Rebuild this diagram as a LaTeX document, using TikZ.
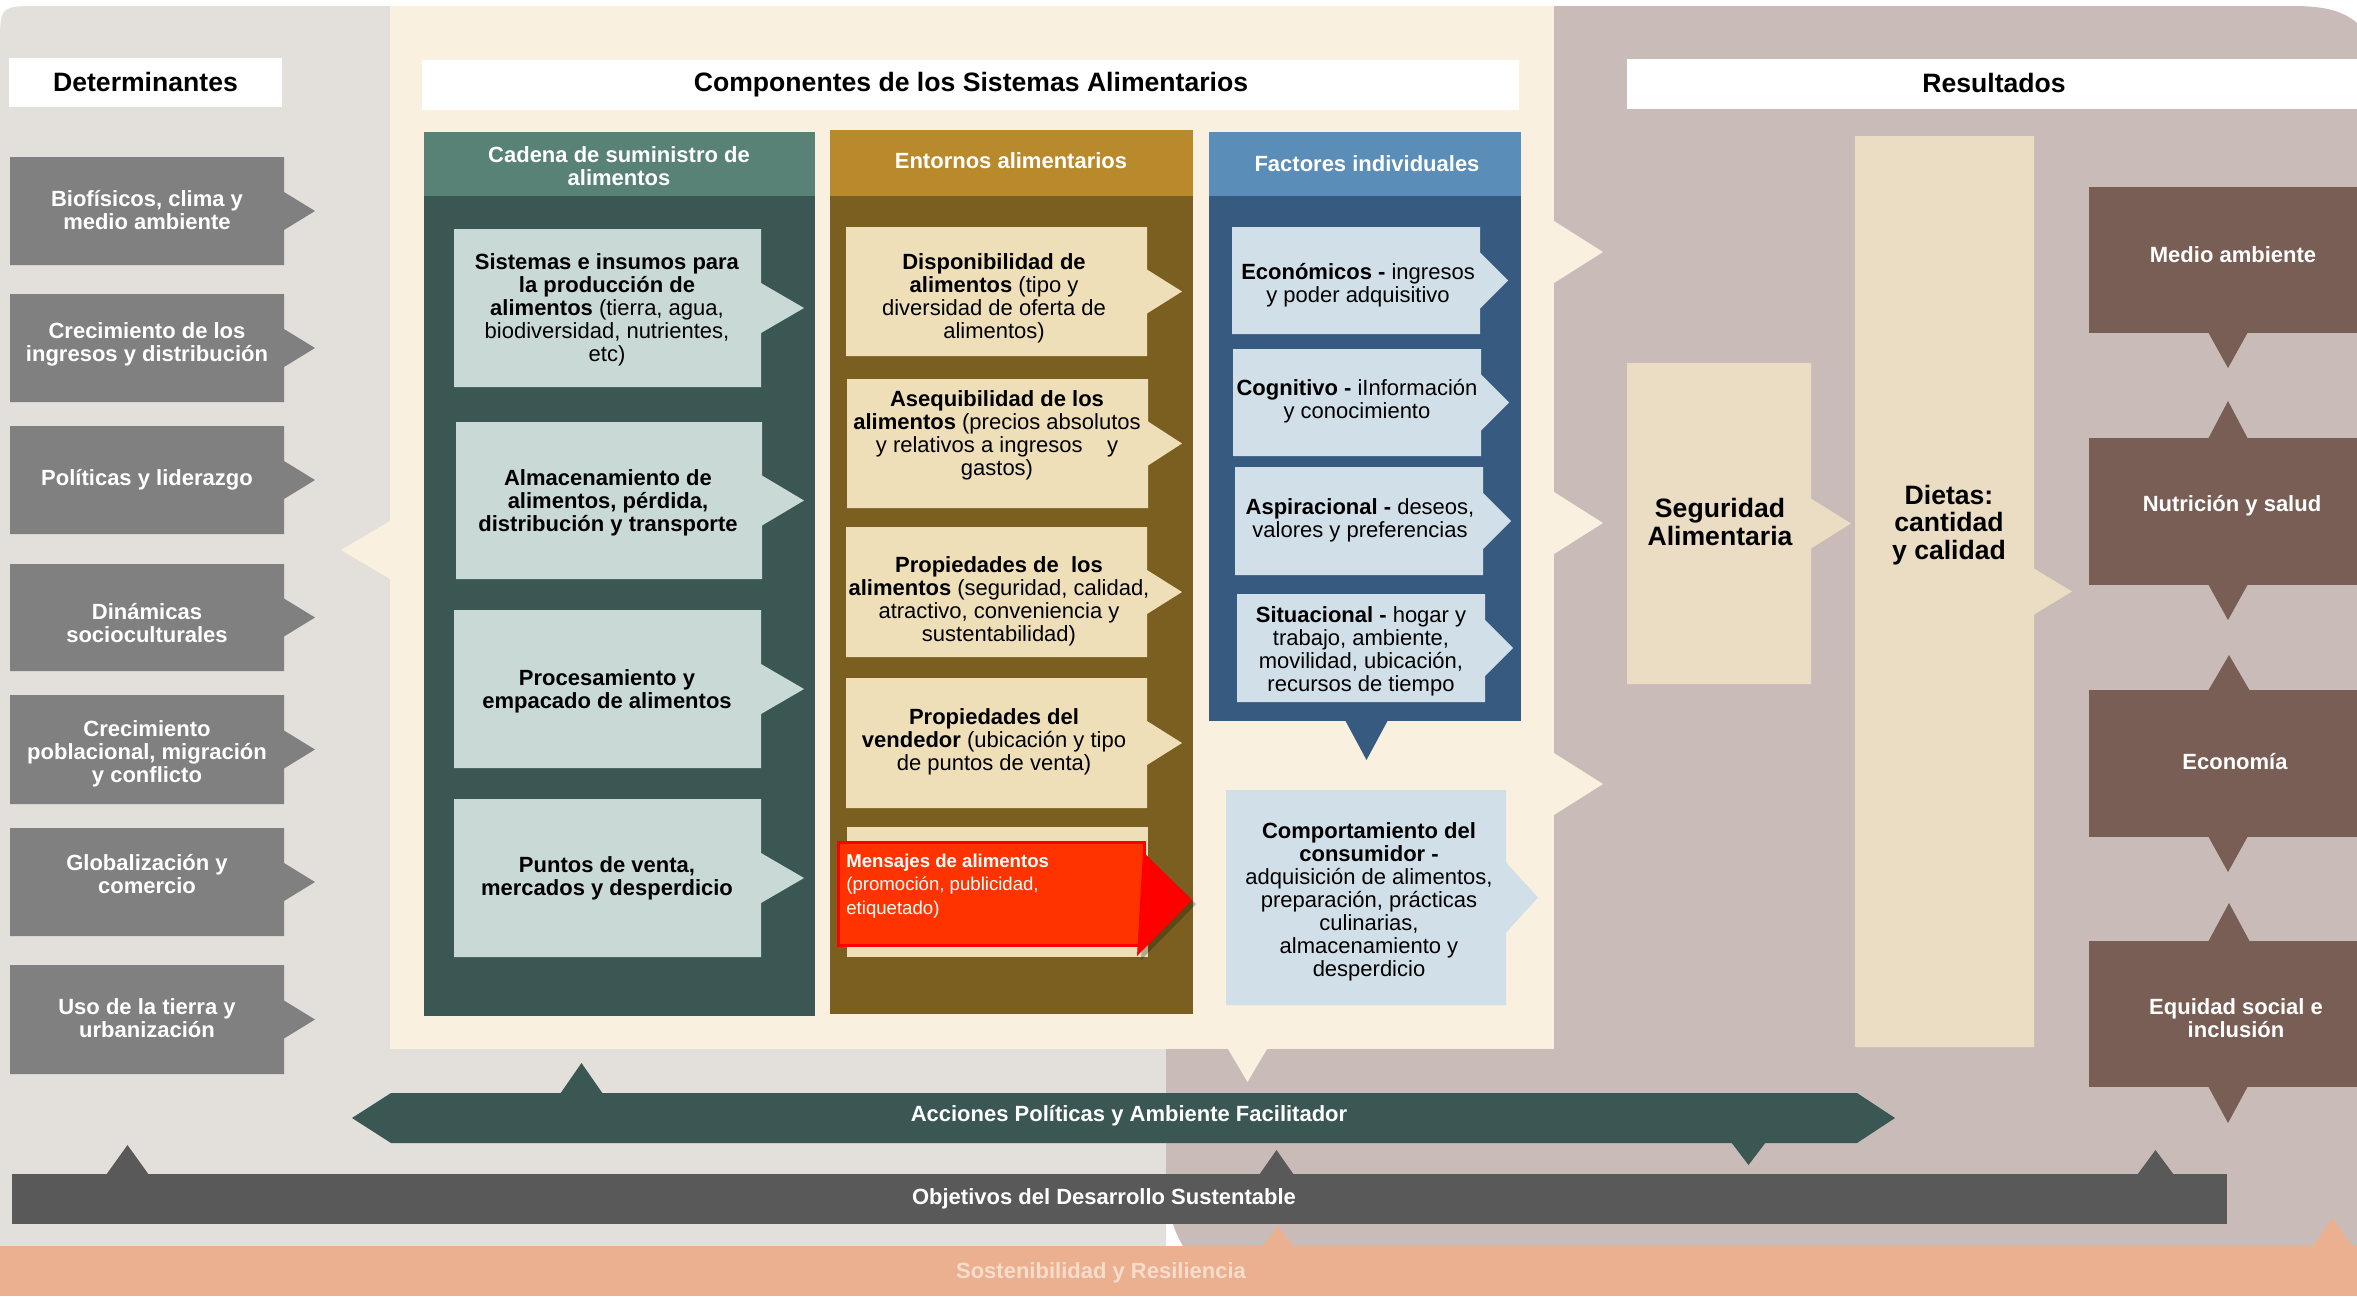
\documentclass[tikz,border=0pt]{standalone}
\usepackage{fontspec}
\setmainfont{Liberation Sans}
\definecolor{bggray}{HTML}{E3DFDB}
\definecolor{cream}{HTML}{F9F0DF}
\definecolor{mauve}{HTML}{C9BCB8}
\definecolor{detgray}{HTML}{808080}
\definecolor{tealhead}{HTML}{588276}
\definecolor{tealbody}{HTML}{3A5753}
\definecolor{tealin}{HTML}{C9DAD6}
\definecolor{goldhead}{HTML}{B98A2C}
\definecolor{goldbody}{HTML}{7B5F20}
\definecolor{goldin}{HTML}{EEDFB9}
\definecolor{bluehead}{HTML}{5A8DB8}
\definecolor{bluebody}{HTML}{375B80}
\definecolor{bluein}{HTML}{D1DFE8}
\definecolor{sand}{HTML}{EBDCC4}
\definecolor{brownout}{HTML}{785E54}
\definecolor{darkbar}{HTML}{595959}
\definecolor{salmon}{HTML}{EBB090}
\definecolor{salmontxt}{HTML}{F8DDCD}
\definecolor{redfill}{HTML}{FF3300}
\definecolor{redline}{HTML}{FF0000}
% x1,y1,x2,y2,half,tip,color : box with right arrow tab
\newcommand{\arrbox}[7]{\fill[#7] (#1,#2) -- (#3,#2) -- (#3,{(#2+#4)/2-#5}) -- (#6,{(#2+#4)/2}) -- (#3,{(#2+#4)/2+#5}) -- (#3,#4) -- (#1,#4) -- cycle;}
% x1,x2,ybase,ytip,color : triangle tab
\newcommand{\tritab}[5]{\fill[#5] (#1,#3) -- (#2,#3) -- ({(#1+#2)/2},#4) -- cycle;}
\begin{document}
\begin{tikzpicture}[x=0.5pt,y=-0.5pt,
  every node/.style={inner sep=0pt,align=center},
  detlbl/.style={text=white,font=\fontsize{11}{11.5}\selectfont\bfseries},
  headlbl/.style={text=black,font=\fontsize{13.3}{14}\selectfont\bfseries},
  collbl/.style={text=white,font=\fontsize{11}{11.5}\selectfont\bfseries},
  inlbl/.style={text=black,font=\fontsize{11}{11.5}\selectfont},
  boldin/.style={text=black,font=\fontsize{11}{11.5}\selectfont\bfseries},
  biglbl/.style={text=black,font=\fontsize{13.3}{13.8}\selectfont\bfseries},
  outlbl/.style={text=white,font=\fontsize{11}{11.5}\selectfont\bfseries},
  barlbl/.style={text=white,font=\fontsize{11}{11.5}\selectfont\bfseries},
  redlbl/.style={text=white,font=\fontsize{9.3}{11.75}\selectfont,align=left}]
\useasboundingbox (0,0) rectangle (2357,1297);
\fill[white] (0,0) rectangle (2357,1297);
% ---------- backgrounds ----------
\fill[bggray] (0,46) .. controls (0,6) .. (40,6) -- (1166,6) -- (1166,1260) -- (0,1260) -- cycle;
\fill[mauve] (1554,6) -- (2293,6) .. controls (2325,6) and (2343,11) .. (2357,23) -- (2357,1260) -- (1190,1260) -- (1183,1246) .. controls (1172,1228) and (1166,1205) .. (1166,1174) -- (1166,1049) -- (1554,1049) -- cycle;
\fill[cream] (390,6) rectangle (1554,1049);
% cream tabs
\fill[cream] (390,521) -- (341,550) -- (390,579) -- cycle;
\fill[cream] (1554,221) -- (1603,252) -- (1554,283) -- cycle;
\fill[cream] (1554,492) -- (1603,523) -- (1554,554) -- cycle;
\fill[cream] (1554,753) -- (1603,784) -- (1554,815) -- cycle;
\tritab{1228}{1267}{1049}{1082}{cream}
% ---------- header boxes ----------
\fill[white] (9,58) rectangle (282,107);
\fill[white] (422,60) rectangle (1519,110);
\fill[white] (1627,59) rectangle (2357,109);
\node[headlbl] (hdet) at (145.5,81.5) {Determinantes};
\node[headlbl] (hcomp) at (971,85) {Componentes de los Sistemas Alimentarios};
\node[headlbl] (hres) at (1994,82.5) {Resultados};
% ---------- determinantes ----------
\arrbox{10}{157}{284}{265}{19}{315}{detgray}
\arrbox{10}{294}{284}{402}{19}{315}{detgray}
\arrbox{10}{426}{284}{534}{19}{315}{detgray}
\arrbox{10}{564}{284}{671}{19}{315}{detgray}
\arrbox{10}{695}{284}{804}{19}{315}{detgray}
\arrbox{10}{828}{284}{936}{19}{315}{detgray}
\arrbox{10}{965}{284}{1074}{19}{315}{detgray}
\node[detlbl] (d1) at (147,210) {Biofísicos, clima y\\medio ambiente};
\node[detlbl] (d2) at (147,344) {Crecimiento de los\\ingresos y distribución};
\node[detlbl] (d3) at (147,480) {Políticas y liderazgo};
\node[detlbl] (d4) at (147,623) {Dinámicas\\socioculturales};
\node[detlbl] (d5) at (147,754) {Crecimiento\\poblacional, migración\\y conflicto};
\node[detlbl] (d6) at (147,874) {Globalización y\\comercio};
\node[detlbl] (d7) at (147,1018) {Uso de la tierra y\\urbanización};
% ---------- cadena de suministro ----------
\fill[tealhead] (424,132) rectangle (815,196);
\fill[tealbody] (424,196) rectangle (815,1016);
\node[collbl] (hcad) at (619,166) {Cadena de suministro de\\alimentos};
\arrbox{454}{229}{761}{387}{25}{804}{tealin}
\arrbox{456}{422}{762}{579}{25}{804}{tealin}
\arrbox{454}{610}{761}{768}{25}{804}{tealin}
\arrbox{454}{799}{761}{957}{25}{804}{tealin}
\node[inlbl] (c1) at (607,310) {\textbf{Sistemas e insumos para}\\\textbf{la producción de}\\\textbf{alimentos} (tierra, agua,\\biodiversidad, nutrientes,\\etc)};
\node[boldin] (c2) at (608,503) {Almacenamiento de\\alimentos, pérdida,\\distribución y transporte};
\node[boldin] (c3) at (607,691) {Procesamiento y\\empacado de alimentos};
\node[boldin] (c4) at (607,878.5) {Puntos de venta,\\mercados y desperdicio};
% ---------- entornos alimentarios ----------
\fill[goldhead] (830,130) rectangle (1193,196);
\fill[goldbody] (830,196) rectangle (1193,1014);
\node[collbl] (hent) at (1011,161) {Entornos alimentarios};
\arrbox{846}{227}{1147}{356}{22}{1182}{goldin}
\arrbox{847}{379}{1148}{508}{22}{1182}{goldin}
\arrbox{846}{527}{1147}{657}{22}{1182}{goldin}
\arrbox{846}{678}{1147}{808}{22}{1182}{goldin}
\fill[goldin] (847,827) rectangle (1148,957);
\node[inlbl] (e1) at (994,298) {\textbf{Disponibilidad de}\\\textbf{alimentos} (tipo y\\diversidad de oferta de\\alimentos)};
\node[inlbl] (e2) at (997,435) {\textbf{Asequibilidad de los}\\\textbf{alimentos} (precios absolutos\\y relativos a ingresos\ \ \ \ y\\gastos)};
\node[inlbl] (e3) at (999,601) {\textbf{Propiedades de\ \ los}\\\textbf{alimentos} (seguridad, calidad,\\atractivo, conveniencia y\\sustentabilidad)};
\node[inlbl] (e4) at (994,741.5) {\textbf{Propiedades del}\\\textbf{vendedor} (ubicación y tipo\\de puntos de venta)};
% red message box
\fill[black,opacity=0.25] (1147,856) -- (1196,904) -- (1141,960) -- cycle;
\fill[redfill,draw=redline,line width=1.5pt] (838,842) rectangle (1144,945);
\fill[redline] (1143,852) -- (1192,900) -- (1137,956) -- cycle;
\node[redlbl,anchor=west] (e5) at (846,886) {\textbf{Mensajes de alimentos}\\(promoción, publicidad,\\etiquetado)};
% ---------- factores individuales ----------
\fill[bluehead] (1209,132) rectangle (1521,196);
\fill[bluebody] (1209,196) rectangle (1521,721);
\tritab{1345}{1388}{720}{760}{bluebody}
\node[collbl] (hfac) at (1367,164) {Factores individuales};
\arrbox{1232}{227}{1480}{334}{28}{1508}{bluein}
\arrbox{1233}{349}{1481}{456}{28}{1509}{bluein}
\arrbox{1235}{467}{1483}{575}{28}{1511}{bluein}
\arrbox{1237}{594}{1485}{702}{28}{1513}{bluein}
\node[inlbl] (f1) at (1358,285) {\textbf{Económicos -} ingresos\\y poder adquisitivo};
\node[inlbl] (f2) at (1357,401) {\textbf{Cognitivo -} iInformación\\y conocimiento};
\node[inlbl] (f3) at (1360,520) {\textbf{Aspiracional -} deseos,\\valores y preferencias};
\node[inlbl] (f4) at (1361,651) {\textbf{Situacional -} hogar y\\trabajo, ambiente,\\movilidad, ubicación,\\recursos de tiempo};
% comportamiento
\arrbox{1226}{790}{1506}{1005}{35}{1538}{bluein}
\node[inlbl] (comp) at (1369,902) {\textbf{Comportamiento del}\\\textbf{consumidor -}\\adquisición de alimentos,\\preparación, prácticas\\culinarias,\\almacenamiento y\\desperdicio};
% ---------- resultados ----------
\arrbox{1627}{363}{1811}{684}{25}{1851}{sand}
\arrbox{1855}{136}{2034}{1047}{23}{2072}{sand}
\node[biglbl] (seg) at (1720,522) {Seguridad\\Alimentaria};
\node[biglbl] (diet) at (1949,525) {Dietas:\\cantidad\\y calidad};
\fill[brownout] (2089,187) rectangle (2357,333);
\fill[brownout] (2089,438) rectangle (2357,585);
\fill[brownout] (2089,690) rectangle (2357,837);
\fill[brownout] (2089,941) rectangle (2357,1087);
\tritab{2208}{2248}{332}{368}{brownout}
\tritab{2208}{2248}{439}{401}{brownout}
\tritab{2208}{2248}{584}{620}{brownout}
\tritab{2208}{2250}{691}{655}{brownout}
\tritab{2208}{2248}{836}{872}{brownout}
\tritab{2208}{2250}{942}{903}{brownout}
\tritab{2208}{2248}{1086}{1123}{brownout}
\node[outlbl] (o1) at (2233,255) {Medio ambiente};
\node[outlbl] (o2) at (2232,506) {Nutrición y salud};
\node[outlbl] (o3) at (2235,762) {Economía};
\node[outlbl] (o4) at (2236,1018) {Equidad social e\\inclusión};
% ---------- bottom bars ----------
\tritab{560}{603}{1094}{1063}{tealbody}
\tritab{1731}{1766}{1142}{1165}{tealbody}
\fill[tealbody] (352,1118) -- (391,1093) -- (1857,1093) -- (1895,1118) -- (1857,1143) -- (391,1143) -- cycle;
\node[barlbl] (acc) at (1129,1116) {Acciones Políticas y Ambiente Facilitador};
\tritab{106}{149}{1175}{1145}{darkbar}
\tritab{1259}{1294}{1175}{1150}{darkbar}
\tritab{2137}{2174}{1175}{1150}{darkbar}
\fill[darkbar] (12,1174) rectangle (2227,1224);
\node[barlbl] (obj) at (1104,1199) {Objetivos del Desarrollo Sustentable};
\fill[salmon] (0,1246) rectangle (2357,1296);
\tritab{1262}{1294}{1247}{1226}{salmon}
\tritab{2312}{2353}{1247}{1218}{salmon}
\node[barlbl,text=salmontxt] (sost) at (1101,1272.5) {Sostenibilidad y Resiliencia};
\end{tikzpicture}
\end{document}
